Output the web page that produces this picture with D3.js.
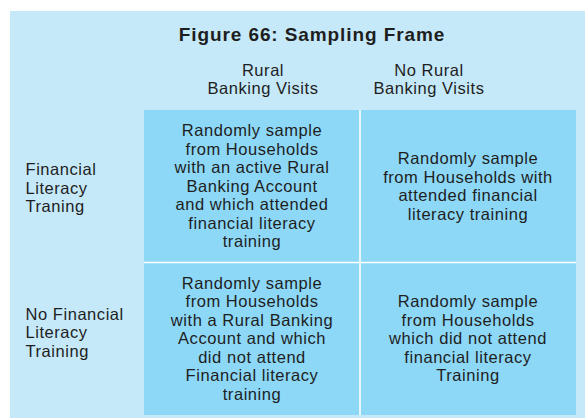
<!DOCTYPE html>
<html>
<head>
<meta charset="utf-8">
<script src="https://cdn.jsdelivr.net/npm/d3@7"></script>
<style>
  html, body { margin: 0; padding: 0; background: #ffffff; }
  svg { display: block; }
  text { font-family: "Liberation Sans", Arial, Helvetica, sans-serif; fill: #1e1e1e; }
</style>
</head>
<body>
<svg id="chart" width="585" height="418"></svg>
<script>
// ---- data ----
const title = "Figure 66: Sampling Frame";
const columns = ["Rural Banking Visits", "No Rural Banking Visits"];
const columnLabelLines = [["Rural", "Banking Visits"], ["No Rural", "Banking Visits"]];
const rows = ["Financial Literacy Training", "No Financial Literacy Training"];
const rowLabelLines = [["Financial", "Literacy", "Traning"], ["No Financial", "Literacy", "Training"]];
const cellRow = [0, 0, 1, 1];
const cellCol = [0, 1, 0, 1];
const cellLines = [
  ["Randomly sample", "from Households", "with an active Rural", "Banking Account", "and which attended", "financial literacy", "training"],
  ["Randomly sample", "from Households with", "attended financial", "literacy training"],
  ["Randomly sample", "from Households", "with a Rural Banking", "Account and which", "did not attend", "Financial literacy", "training"],
  ["Randomly sample", "from Households", "which did not attend", "financial literacy", "Training"]
];

// ---- layout ----
const W = 585, H = 418;
const svg = d3.select("#chart");
const panelColor = "#c6e9f9";
const cellColor = "#8dd8f7";
const lineH = 18.5;

svg.append("rect").attr("x", 10).attr("y", 11).attr("width", W - 10).attr("height", H - 11).attr("fill", panelColor);

const x = d3.scaleBand().domain(d3.range(columns.length)).range([144, 576]).padding(0);
const y = d3.scaleBand().domain(d3.range(rows.length)).range([110, 415]).padding(0);
const xHead = d3.scalePoint().domain(d3.range(columns.length)).range([263, 429]);

// title
svg.append("text")
  .attr("x", 312).attr("y", 41)
  .attr("text-anchor", "middle")
  .style("font-size", "19px").style("font-weight", "bold").style("letter-spacing", "0.9px")
  .attr("fill", "#111")
  .text(title);

// grid cells
const cells = d3.range(cellLines.length).map(i => ({r: cellRow[i], c: cellCol[i], lines: cellLines[i]}));
svg.append("g").selectAll("rect").data(cells).join("rect")
  .attr("x", d => x(d.c)).attr("y", d => y(d.r))
  .attr("width", x.bandwidth()).attr("height", y.bandwidth())
  .attr("fill", cellColor);

// white dividers
svg.append("line")
  .attr("x1", x(1)).attr("x2", x(1)).attr("y1", y(0)).attr("y2", y(1) + y.bandwidth())
  .attr("stroke", "#ffffff").attr("stroke-width", 1.6);
svg.append("line")
  .attr("x1", x(0)).attr("x2", x(1) + x.bandwidth()).attr("y1", y(1)).attr("y2", y(1))
  .attr("stroke", "#ffffff").attr("stroke-width", 1.6);

const bodyStyle = sel => sel.style("font-size", "16.5px").style("letter-spacing", "0.55px");

// cell text
const cg = svg.append("g").selectAll("text").data(cells).join("text")
  .attr("text-anchor", "middle")
  .call(bodyStyle);
cg.each(function(d) {
  const cx = x(d.c) + x.bandwidth() / 2;
  const cy = y(d.r) + y.bandwidth() / 2;
  const y0 = cy - (d.lines.length - 1) / 2 * lineH + 5.5;
  d3.select(this).selectAll("tspan").data(d.lines).join("tspan")
    .attr("x", cx).attr("y", (t, i) => y0 + i * lineH).text(t => t);
});

// column headers
svg.append("g").selectAll("text").data(columnLabelLines).join("text")
  .attr("text-anchor", "middle").call(bodyStyle)
  .each(function(lines, ci) {
    d3.select(this).selectAll("tspan").data(lines).join("tspan")
      .attr("x", xHead(ci)).attr("y", (t, i) => 75.7 + i * 18.3).text(t => t);
  });

// row labels
const rowCenterOffset = [1.8, -6];
svg.append("g").selectAll("text").data(rowLabelLines).join("text")
  .attr("text-anchor", "start").call(bodyStyle)
  .each(function(lines, ri) {
    const cy = y(ri) + y.bandwidth() / 2 + rowCenterOffset[ri];
    const y0 = cy - (lines.length - 1) / 2 * 18.3 + 5.5;
    d3.select(this).selectAll("tspan").data(lines).join("tspan")
      .attr("x", 25.5).attr("y", (t, i) => y0 + i * 18.3).text(t => t);
  });
</script>
</body>
</html>
